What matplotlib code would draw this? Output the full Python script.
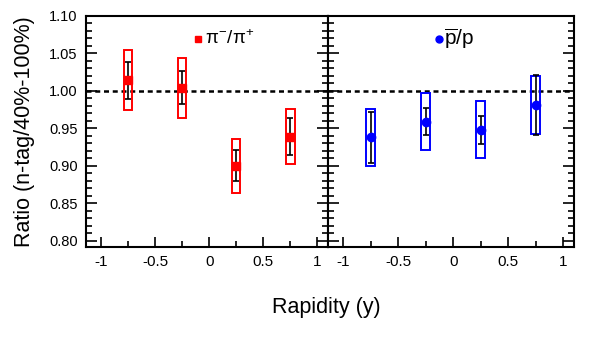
import numpy as np
import matplotlib
matplotlib.use("Agg")
import matplotlib.pyplot as plt
from matplotlib.patches import Rectangle
from matplotlib.ticker import MultipleLocator, FixedFormatter, FixedLocator

plt.rcParams['font.family'] = ['Liberation Sans', 'DejaVu Sans']
plt.rcParams['mathtext.fontset'] = 'custom'
plt.rcParams['mathtext.rm'] = 'Liberation Sans'
plt.rcParams['mathtext.it'] = 'Liberation Sans'

# rapidity bins
rapidity = [-0.75, -0.25, 0.25, 0.75]

# pi-/pi+ ratio
pi_ratio = [1.014, 1.004, 0.900, 0.939]
pi_stat = [0.025, 0.022, 0.021, 0.025]
pi_sys = [0.040, 0.040, 0.036, 0.037]

# pbar/p ratio
p_ratio = [0.938, 0.959, 0.948, 0.981]
p_stat = [0.034, 0.018, 0.019, 0.040]
p_sys = [0.038, 0.038, 0.038, 0.039]

xticks = [-1, -0.5, 0, 0.5, 1]
xticklabels = ['-1', '-0.5', '0', '0.5', '1']

fig = plt.figure(figsize=(6.0, 3.52), dpi=100)
ax1 = fig.add_axes([86/600, 105/352, 242/600, 231/352])
ax2 = fig.add_axes([328/600, 105/352, 246/600, 231/352])

box_hw = 0.04


def draw_panel(ax, y, stat, sys, color, marker, msize, label, lsize, lx, ly, tx):
    for xi, yi, si in zip(rapidity, y, sys):
        ax.add_patch(Rectangle((xi - box_hw, yi - si), 2 * box_hw, 2 * si,
                               fill=False, edgecolor=color, lw=1.4, zorder=3))
    ax.errorbar(rapidity, y, yerr=stat, fmt='none', ecolor='black',
                elinewidth=1.2, capsize=2, capthick=1.2, zorder=4)
    ax.plot(rapidity, y, ls='none', marker=marker, color=color, ms=msize, zorder=5)
    ax.axhline(1.0, color='black', ls=(0, (2, 1.5)), lw=1.8, zorder=2)
    ax.plot([lx], [ly], ls='none', marker=marker, color=color, ms=msize - 1,
            transform=ax.transAxes, clip_on=False)
    ax.text(tx, ly, label, transform=ax.transAxes, fontsize=lsize, va='center', ha='left')

    ax.set_xlim(-1.14, 1.1)
    ax.set_ylim(0.7915, 1.10)
    ax.xaxis.set_major_locator(FixedLocator(xticks))
    ax.xaxis.set_major_formatter(FixedFormatter(xticklabels))
    ax.xaxis.set_minor_locator(MultipleLocator(0.25))
    ax.yaxis.set_major_locator(MultipleLocator(0.05))
    ax.yaxis.set_minor_locator(MultipleLocator(0.01))
    ax.tick_params(axis='x', which='both', direction='in', top=False, bottom=True,
                   labelsize=11, pad=6)
    ax.tick_params(axis='x', which='major', length=7, width=1.2)
    ax.tick_params(axis='x', which='minor', length=4, width=1.2)
    ax.tick_params(axis='y', which='both', direction='in', left=True, right=True,
                   labelsize=10.5, pad=6)
    ax.tick_params(axis='y', which='major', length=8, width=1.2)
    ax.tick_params(axis='y', which='minor', length=4, width=1.2)
    for sp in ax.spines.values():
        sp.set_linewidth(1.5)


draw_panel(ax1, pi_ratio, pi_stat, pi_sys, '#ff0000', 's', 6,
           r'$\pi^{-}/\pi^{+}$', 13.5, (198 - 86) / 242, (352 - 39 - 105) / 231, (205 - 86) / 242)
draw_panel(ax2, p_ratio, p_stat, p_sys, '#0000ff', 'o', 6,
           r'$\overline{\mathrm{p}}/\mathrm{p}$', 15, (439 - 328) / 246, (352 - 39 - 105) / 231,
           (444 - 328) / 246)

ax1.yaxis.set_major_formatter(plt.FuncFormatter(lambda v, p: '%.2f' % v))
ax2.tick_params(axis='y', labelleft=False)

fig.text(25/600, 1 - 132/352, 'Ratio (n-tag/40%-100%)', rotation=90,
         fontsize=15.5, ha='center', va='center')
fig.text(326/600, 1 - 307/352, 'Rapidity (y)', fontsize=15.5, ha='center', va='center')

fig.savefig('out.png', dpi=100)
